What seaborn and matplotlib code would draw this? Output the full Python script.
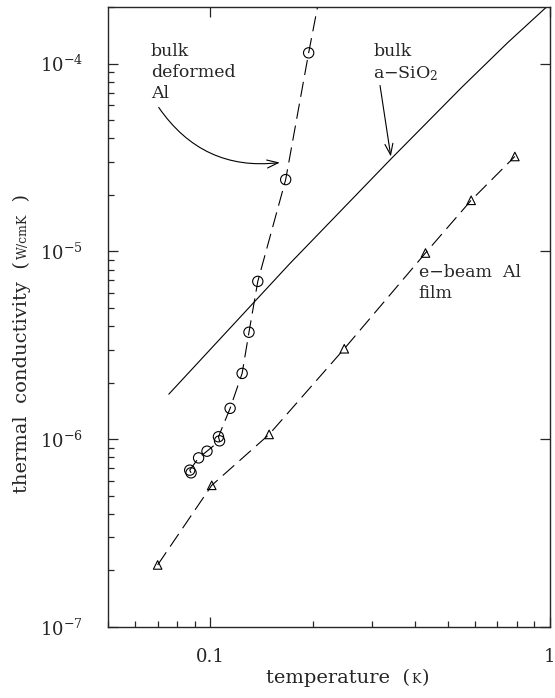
import matplotlib
matplotlib.use("Agg")
import matplotlib.pyplot as plt
import matplotlib.ticker as mticker
import pandas as pd
import seaborn as sns

# bulk deformed Al (open circles)
al_T = [0.0878, 0.0870, 0.0924, 0.0978, 0.1065, 0.1057, 0.1144, 0.1241, 0.130, 0.138, 0.1667, 0.1948]
al_k = [6.62e-7, 6.84e-7, 7.95e-7, 8.63e-7, 0.98e-6, 1.03e-6, 1.46e-6, 2.24e-6, 3.71e-6, 6.92e-6, 2.41e-5, 1.14e-4]
# dashed guide through the Al points runs on past the top of the frame
al_curve_T = al_T + [0.21]
al_curve_k = al_k + [2.3e-4]

# bulk a-SiO2 (solid line)
sio2_T = [0.0755, 0.1714, 0.340, 0.549, 0.75, 1.0]
sio2_k = [1.736e-6, 8.6e-6, 3.1e-5, 7.45e-5, 1.29e-4, 2.08e-4]

# e-beam Al film (open triangles)
film_T = [0.070, 0.101, 0.149, 0.248, 0.430, 0.586, 0.788]
film_k = [2.14e-7, 5.68e-7, 1.06e-6, 3.03e-6, 9.8e-6, 1.87e-5, 3.2e-5]

x_ticks = [0.1, 1]
x_ticklabels = ["0.1", "1"]

sns.set_style("ticks")
plt.rcParams["font.family"] = ["DejaVu Serif"]
plt.rcParams["mathtext.fontset"] = "dejavuserif"
plt.rcParams["lines.scale_dashes"] = False

al = pd.DataFrame({"T": al_T, "k": al_k})
al_curve = pd.DataFrame({"T": al_curve_T, "k": al_curve_k})
sio2 = pd.DataFrame({"T": sio2_T, "k": sio2_k})
film = pd.DataFrame({"T": film_T, "k": film_k})

fig = plt.figure(figsize=(5.55, 6.98), dpi=100)
ax = fig.add_axes([108 / 555, 71 / 698, 442 / 555, 620 / 698])
ax.set_xscale("log")
ax.set_yscale("log")

dash = (0, (11, 5))
sns.lineplot(data=al_curve, x="T", y="k", ax=ax, sort=False, estimator=None,
             color="black", lw=0.8, linestyle=dash)
sns.lineplot(data=sio2, x="T", y="k", ax=ax, sort=False, estimator=None,
             color="black", lw=0.8)
sns.lineplot(data=film, x="T", y="k", ax=ax, sort=False, estimator=None,
             color="black", lw=0.8, linestyle=dash)
sns.scatterplot(data=al, x="T", y="k", ax=ax, marker="o", s=55,
                facecolors="none", edgecolors="black", linewidths=0.8, zorder=3)
sns.scatterplot(data=film, x="T", y="k", ax=ax, marker="^", s=38,
                facecolors="none", edgecolors="black", linewidths=0.8, zorder=3)

ax.set_xlim(0.05, 1)
ax.set_ylim(1e-7, 2e-4)
ax.set_xlabel("")
ax.set_ylabel("")

ax.xaxis.set_major_locator(mticker.FixedLocator(x_ticks))
ax.xaxis.set_major_formatter(mticker.FixedFormatter(x_ticklabels))
ax.xaxis.set_minor_locator(mticker.LogLocator(base=10, subs=range(2, 10), numticks=20))
ax.xaxis.set_minor_formatter(mticker.NullFormatter())
ax.yaxis.set_major_locator(mticker.LogLocator(base=10, numticks=20))
ax.yaxis.set_minor_locator(mticker.LogLocator(base=10, subs=range(2, 10), numticks=20))
ax.yaxis.set_minor_formatter(mticker.NullFormatter())

ax.tick_params(which="major", direction="in", length=7, width=0.9,
               top=True, right=True, labelsize=13)
ax.tick_params(which="minor", direction="in", length=4, width=0.9,
               top=False, right=False)
ax.tick_params(axis="y", which="major", pad=18)
ax.tick_params(axis="x", which="major", pad=15)
for sp in ax.spines.values():
    sp.set_linewidth(1.0)

# curve labels and arrows
lab = dict(fontsize=12.5, ha="left", va="top", linespacing=1.3)
ax.text(0.0668, 1.29e-4, "bulk\ndeformed\nAl", **lab)
ax.text(0.3017, 1.29e-4, "bulk\na\u2212SiO$_2$", **lab)
ax.text(0.411, 8.6e-6, "e\u2212beam  Al\nfilm", **lab)
ax.annotate("", xy=(0.1602, 2.97e-5), xytext=(0.0705, 5.84e-5),
            arrowprops=dict(arrowstyle="->,head_length=0.5,head_width=0.18",
                            connectionstyle="arc3,rad=0.3", lw=0.8,
                            color="black", mutation_scale=16, shrinkA=0, shrinkB=0))
ax.annotate("", xy=(0.340, 3.2e-5), xytext=(0.316, 7.64e-5),
            arrowprops=dict(arrowstyle="->,head_length=0.5,head_width=0.18",
                            lw=0.8, color="black", mutation_scale=16,
                            shrinkA=0, shrinkB=0))

# axis titles with the unit set smaller, as in the original
ylx = 22 / 555
yl = fig.text(ylx, 1 - 493 / 698, "thermal  conductivity  (",
              rotation=90, ha="center", va="bottom", fontsize=14)
yu = fig.text(ylx + 0.003, 0, "W/cmK", rotation=90, ha="center", va="bottom", fontsize=9)
yu2 = fig.text(ylx, 0, "  )", rotation=90, ha="center", va="bottom", fontsize=14)

xl = fig.text(266 / 555, 15 / 698, "temperature  (", ha="left", va="baseline", fontsize=14)
xu = fig.text(0, 15 / 698, "K", ha="left", va="baseline", fontsize=9)
xu2 = fig.text(0, 15 / 698, ")", ha="left", va="baseline", fontsize=14)

fig.canvas.draw()
inv = fig.transFigure.inverted()
r = fig.canvas.get_renderer()
bb = yl.get_window_extent(r)
yu.set_y(inv.transform((0, bb.y1 + 2))[1])
bb = yu.get_window_extent(r)
yu2.set_y(inv.transform((0, bb.y1))[1])
bb = xl.get_window_extent(r)
xu.set_x(inv.transform((bb.x1 + 1, 0))[0])
bb = xu.get_window_extent(r)
xu2.set_x(inv.transform((bb.x1 + 1, 0))[0])

fig.savefig("out.png", dpi=100)
